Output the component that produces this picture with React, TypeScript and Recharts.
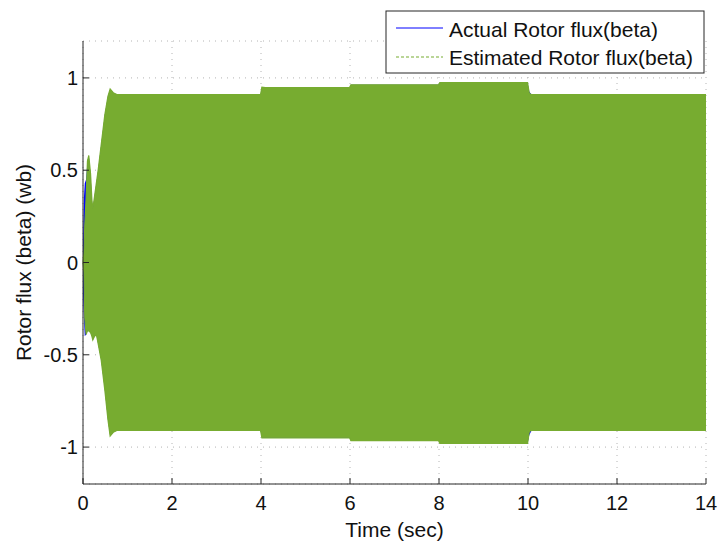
import React from 'react';
import { ComposedChart, Area, XAxis, YAxis, CartesianGrid, Label } from 'recharts';

// envelope of the rotor flux (beta) oscillation
const time = [0, 0.02, 0.04, 0.07, 0.1, 0.13, 0.17, 0.2, 0.22, 0.26, 0.3, 0.34, 0.41, 0.49, 0.56, 0.61, 0.68, 0.76, 3.99, 4.02, 4.1, 5.99, 6.02, 7.99, 8.02, 9.99, 10.03, 10.08, 14];
const estimatedHigh = [0, 0.05, 0.2, 0.35, 0.55, 0.58, 0.48, 0.34, 0.29, 0.36, 0.43, 0.5, 0.64, 0.8, 0.9, 0.94, 0.92, 0.91, 0.91, 0.95, 0.948, 0.948, 0.963, 0.963, 0.975, 0.975, 0.915, 0.91, 0.91];
const estimatedLow = [0, -0.05, -0.3, -0.39, -0.37, -0.37, -0.38, -0.4, -0.42, -0.4, -0.39, -0.44, -0.53, -0.69, -0.85, -0.94, -0.92, -0.91, -0.91, -0.95, -0.95, -0.95, -0.965, -0.965, -0.98, -0.98, -0.915, -0.91, -0.91];
const actualHigh = [0.1, 0.35, 0.43, 0.45, 0.55, 0.58, 0.48, 0.34, 0.29, 0.36, 0.43, 0.5, 0.64, 0.8, 0.9, 0.94, 0.92, 0.91, 0.91, 0.95, 0.948, 0.948, 0.963, 0.963, 0.975, 0.975, 0.925, 0.91, 0.91];
const actualLow = [-0.17, -0.3, -0.4, -0.39, -0.37, -0.37, -0.38, -0.4, -0.42, -0.4, -0.39, -0.44, -0.53, -0.69, -0.85, -0.94, -0.92, -0.91, -0.91, -0.95, -0.95, -0.95, -0.965, -0.965, -0.98, -0.98, -0.935, -0.91, -0.91];

const xTicks = [0, 2, 4, 6, 8, 10, 12, 14];
const yTicks = [-1, -0.5, 0, 0.5, 1];
const seriesNames = ['Actual Rotor flux(beta)', 'Estimated Rotor flux(beta)'];

const BLUE = '#0000ff';
const GREEN = '#77ac30';
const AXIS = '#262626';
const FONT = '"Liberation Sans", Arial, Helvetica, sans-serif';

const data = time.map((t, i) => ({
  t,
  actual: [actualLow[i], actualHigh[i]],
  estimated: [estimatedLow[i], estimatedHigh[i]],
}));

const BottomTick = ({ x, y, payload }: any) => (
  <g>
    <line x1={x} x2={x} y1={y} y2={y - 6} stroke={AXIS} />
    <text x={x} y={y + 26} textAnchor="middle" fill="#111" fontSize={20} fontFamily={FONT}>{payload.value}</text>
  </g>
);

const TopTick = ({ x, y }: any) => <line x1={x} x2={x} y1={y} y2={y + 6} stroke={AXIS} />;

const LeftTick = ({ x, y, payload }: any) => (
  <g>
    <line x1={x} x2={x + 6} y1={y} y2={y} stroke={AXIS} />
    <text x={x - 5} y={y} dy="0.36em" textAnchor="end" fill="#111" fontSize={20} fontFamily={FONT}>{payload.value}</text>
  </g>
);

const RightTick = ({ x, y }: any) => <line x1={x} x2={x - 6} y1={y} y2={y} stroke={AXIS} />;

const LegendBox = () => (
  <svg width={320} height={64} style={{ position: 'absolute', left: 385, top: 10 }}>
    <rect x={1} y={1} width={318} height={62} fill="#fff" stroke={AXIS} strokeWidth={1} />
    <line x1={11} x2={58} y1={18} y2={18} stroke={BLUE} strokeWidth={1} />
    <text x={64} y={27} fontSize={21} fontFamily={FONT} fill="#111">{seriesNames[0]}</text>
    <line x1={11} x2={58} y1={47} y2={47} stroke={GREEN} strokeWidth={1.2} strokeDasharray="3 2" />
    <text x={64} y={55} fontSize={21} fontFamily={FONT} fill="#111">{seriesNames[1]}</text>
  </svg>
);

export default function App() {
  return (
    <div style={{ position: 'absolute', left: 0, top: 0, width: 719, height: 544, background: '#fff', fontFamily: FONT }}>
      <ComposedChart width={719} height={544} data={data} margin={{ top: 41, right: 13, bottom: 0, left: 0 }}>
        <CartesianGrid stroke="#b4b4b4" strokeDasharray="1 5" />
        <XAxis
          dataKey="t"
          type="number"
          domain={[0, 14]}
          ticks={xTicks}
          interval={0}
          height={60}
          tickSize={0}
          tickMargin={0}
          axisLine={{ stroke: AXIS }}
          tick={<BottomTick />}
        >
          <Label value="Time (sec)" position="insideBottom" offset={7} fontSize={21} fontFamily={FONT} fill="#111" />
        </XAxis>
        <XAxis
          xAxisId="top"
          orientation="top"
          dataKey="t"
          type="number"
          domain={[0, 14]}
          ticks={xTicks}
          interval={0}
          height={0}
          tickSize={0}
          tickMargin={0}
          axisLine={{ stroke: AXIS }}
          tick={<TopTick />}
        />
        <YAxis
          type="number"
          domain={[-1.2, 1.2]}
          ticks={yTicks}
          interval={0}
          width={83}
          tickSize={0}
          tickMargin={0}
          allowDataOverflow
          axisLine={{ stroke: AXIS }}
          tick={<LeftTick />}
        >
          <Label
            content={(p: any) => (
              <text
                x={23}
                y={p.viewBox.y + p.viewBox.height / 2}
                transform={`rotate(-90, 23, ${p.viewBox.y + p.viewBox.height / 2})`}
                textAnchor="middle"
                dy="0.36em"
                fontSize={21}
                fontFamily={FONT}
                fill="#111"
              >
                Rotor flux (beta) (wb)
              </text>
            )}
          />
        </YAxis>
        <YAxis
          yAxisId="right"
          orientation="right"
          type="number"
          domain={[-1.2, 1.2]}
          ticks={yTicks}
          interval={0}
          width={0}
          tickSize={0}
          tickMargin={0}
          axisLine={{ stroke: AXIS }}
          tick={<RightTick />}
        />
        <Area dataKey="actual" type="linear" stroke="none" fill={BLUE} fillOpacity={1} isAnimationActive={false} dot={false} activeDot={false} />
        <Area dataKey="estimated" type="linear" stroke={GREEN} strokeWidth={1.2} fill={GREEN} fillOpacity={1} isAnimationActive={false} dot={false} activeDot={false} />
      </ComposedChart>
      <LegendBox />
    </div>
  );
}
